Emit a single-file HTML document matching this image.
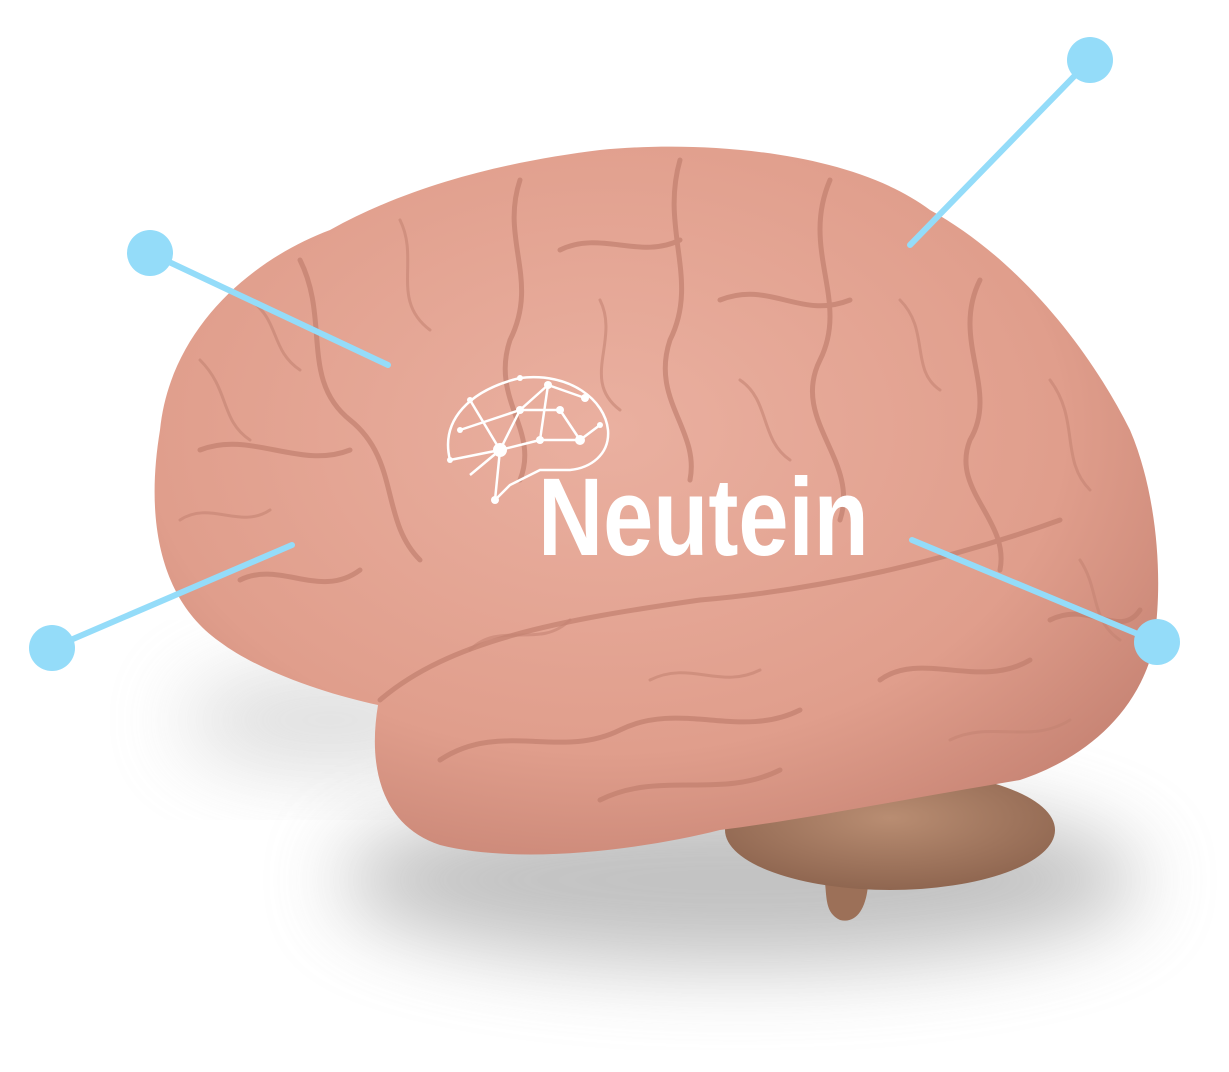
<!DOCTYPE html>
<html><head><meta charset="utf-8"><style>
html,body{margin:0;padding:0;background:#fff;width:1229px;height:1072px;overflow:hidden}
</style></head><body>
<svg width="1229" height="1072" viewBox="0 0 1229 1072" xmlns="http://www.w3.org/2000/svg">
<defs>
<filter id="blur" x="-50%" y="-50%" width="200%" height="200%"><feGaussianBlur stdDeviation="40"/></filter>
<radialGradient id="bg" cx="45%" cy="40%" r="65%">
<stop offset="0" stop-color="#eab0a0"/><stop offset="0.7" stop-color="#e09e8c"/><stop offset="1" stop-color="#c98676"/>
</radialGradient>
<radialGradient id="cg" cx="50%" cy="40%" r="60%">
<stop offset="0" stop-color="#b98d72"/><stop offset="1" stop-color="#8f6650"/>
</radialGradient>
</defs>
<ellipse cx="740" cy="880" rx="400" ry="85" fill="#999" filter="url(#blur)" opacity="0.6"/>
<ellipse cx="330" cy="720" rx="150" ry="50" fill="#aaa" filter="url(#blur)" opacity="0.4"/>
<path d="M820,850 C830,890 820,910 840,920 C860,925 870,900 868,870 Z" fill="#9c7058"/>
<ellipse cx="890" cy="830" rx="165" ry="60" fill="url(#cg)"/>
<path d="M160,430 C170,330 250,260 330,230 C420,180 520,160 600,150 C700,140 850,150 930,210 C1020,260 1090,350 1130,430 C1160,500 1165,600 1150,660 C1130,720 1080,760 1020,780 C900,800 800,820 720,830 C640,850 520,865 440,845 C380,825 368,765 378,705 C330,695 260,672 220,642 C160,600 145,520 160,430 Z" fill="url(#bg)"/>
<g fill="none" stroke="#bf7d6c" stroke-width="5" stroke-linecap="round" opacity="0.65">
<path d="M380,700 C450,640 560,620 700,600 C820,590 950,560 1060,520"/>
<path d="M300,260 C330,320 300,380 350,420 C400,460 380,520 420,560"/>
<path d="M520,180 C500,240 540,280 510,340 C490,400 540,430 520,480"/>
<path d="M680,160 C660,230 700,280 670,340 C650,400 700,430 690,480"/>
<path d="M830,180 C800,250 850,300 820,360 C790,420 860,460 840,520"/>
<path d="M980,280 C950,340 1000,390 970,440 C950,490 1010,520 1000,570"/>
<path d="M200,450 C250,430 300,470 350,450"/>
<path d="M440,760 C500,720 560,760 620,730 C680,700 740,740 800,710"/>
<path d="M600,800 C660,770 720,800 780,770"/>
<path d="M1050,620 C1090,600 1120,640 1140,610"/>
<path d="M240,580 C280,560 320,600 360,570"/>
<path d="M880,680 C920,650 980,690 1030,660"/>
<path d="M560,250 C600,230 640,260 680,240"/>
<path d="M720,300 C770,280 800,320 850,300"/>
</g>
<g fill="none" stroke="#c48473" stroke-width="3" stroke-linecap="round" opacity="0.6">
<path d="M400,220 C420,260 390,300 430,330"/>
<path d="M600,300 C620,340 580,380 620,410"/>
<path d="M740,380 C770,400 760,440 790,460"/>
<path d="M900,300 C930,330 910,370 940,390"/>
<path d="M1050,380 C1080,420 1060,460 1090,490"/>
<path d="M200,360 C230,390 220,420 250,440"/>
<path d="M180,520 C210,500 240,530 270,510"/>
<path d="M470,650 C500,620 540,650 570,620"/>
<path d="M950,740 C990,720 1030,745 1070,720"/>
<path d="M650,680 C690,660 720,690 760,670"/>
<path d="M1080,560 C1100,590 1090,620 1120,640"/>
<path d="M250,300 C280,320 270,350 300,370"/>
</g>
<g stroke="#94dcf9" stroke-width="6" stroke-linecap="round">
<line x1="150" y1="253" x2="388" y2="365"/>
<line x1="1090" y1="60" x2="910" y2="245"/>
<line x1="52" y1="648" x2="292" y2="545"/>
<line x1="1157" y1="642" x2="912" y2="540"/>
</g>
<g fill="#94dcf9">
<circle cx="150" cy="253" r="23"/><circle cx="1090" cy="60" r="23"/>
<circle cx="52" cy="648" r="23"/><circle cx="1157" cy="642" r="23"/>
</g>
<g stroke="#fff" stroke-width="2.5" fill="none">
<path d="M450,460 C440,420 470,390 520,378 C570,372 605,400 608,430 C610,455 590,468 570,470 L540,470 L510,485 L495,500"/>
<path d="M450,460 L500,450 L520,410 L548,385 M470,400 L500,450 L540,440 L580,440 L600,425 M520,410 L560,410 L580,440 M500,450 L495,500 M460,430 L520,410 M540,440 L548,385 L585,398 M470,475 L500,450"/>
</g>
<g fill="#fff">
<circle cx="500" cy="450" r="7"/><circle cx="520" cy="410" r="4"/><circle cx="548" cy="385" r="4"/><circle cx="540" cy="440" r="4"/><circle cx="580" cy="440" r="5"/><circle cx="560" cy="410" r="4"/><circle cx="585" cy="398" r="4"/><circle cx="470" cy="400" r="3"/><circle cx="460" cy="430" r="3"/><circle cx="495" cy="500" r="4"/><circle cx="600" cy="425" r="3"/><circle cx="450" cy="460" r="3"/><circle cx="520" cy="378" r="3"/>
</g>
<text x="538" y="555" fill="#fff" font-family="Liberation Sans, sans-serif" font-weight="bold" font-size="110" transform="translate(538 0) scale(0.82 1) translate(-538 0)">Neutein</text>
</svg>
</body></html>
